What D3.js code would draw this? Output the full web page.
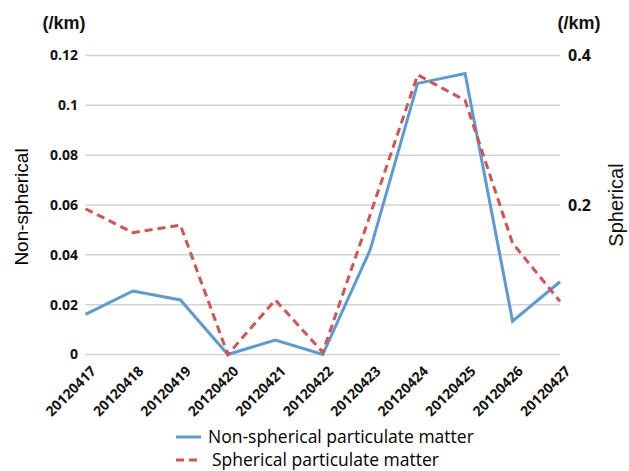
<!DOCTYPE html>
<html><head><meta charset="utf-8">
<script src="https://cdn.jsdelivr.net/npm/d3@7"></script>
<style>
html,body{margin:0;padding:0;background:#fff;}
svg{display:block;}
</style></head>
<body>
<svg id="chart" width="629" height="471"></svg>
<script>
const categories = ["20120417","20120418","20120419","20120420","20120421","20120422","20120423","20120424","20120425","20120426","20120427"];
const nonSpherical = [0.0161, 0.0255, 0.0219, 0.0, 0.0058, 0.0, 0.042, 0.1088, 0.1128, 0.0134, 0.0292];
const spherical = [0.195, 0.163, 0.173, 0.0, 0.073, 0.003, 0.187, 0.374, 0.340, 0.149, 0.071];
const leftTicks = [0, 0.02, 0.04, 0.06, 0.08, 0.1, 0.12];
const rightTicks = [0.2, 0.4];
const seriesNames = ["Non-spherical particulate matter", "Spherical particulate matter"];

const blue = "#5b9bd5", red = "#d6544f";
const svg = d3.select("#chart");
const x = d3.scalePoint().domain(categories).range([85.5, 560]).padding(0);
const yL = d3.scaleLinear().domain([0, 0.12]).range([354.5, 55.5]);
const yR = d3.scaleLinear().domain([0, 0.4]).range([354.5, 55.5]);

// gridlines
svg.append("g").selectAll("line").data(leftTicks).join("line")
  .attr("x1", 85.5).attr("x2", 560)
  .attr("y1", d => yL(d)).attr("y2", d => yL(d))
  .attr("stroke", "#d3d3d3").attr("stroke-width", 1.5);

// left axis labels
const tickFont = "'Open Sans', sans-serif";
svg.append("g").selectAll("text").data(leftTicks).join("text")
  .attr("x", 78).attr("y", d => yL(d)).attr("dy", "0.35em")
  .attr("text-anchor", "end").attr("font-family", tickFont)
  .attr("font-weight", "bold").attr("font-size", 14).attr("fill", "#111")
  .text(d => d === 0 ? "0" : d3.format("")(+d.toFixed(2)));

// right axis labels
svg.append("g").selectAll("text").data(rightTicks).join("text")
  .attr("x", 568).attr("y", d => yR(d)).attr("dy", "0.35em")
  .attr("text-anchor", "start").attr("font-family", tickFont)
  .attr("font-weight", "bold").attr("font-size", 16).attr("fill", "#111")
  .text(d => String(d));

// units
svg.append("text").attr("x", 64).attr("y", 29).attr("text-anchor", "middle")
  .attr("font-family", "'Liberation Sans', Arial, sans-serif").attr("font-weight", "bold")
  .attr("font-size", 18).attr("fill", "#111").text("(/km)");
svg.append("text").attr("x", 579).attr("y", 29).attr("text-anchor", "middle")
  .attr("font-family", "'Liberation Sans', Arial, sans-serif").attr("font-weight", "bold")
  .attr("font-size", 18).attr("fill", "#111").text("(/km)");

// axis titles
svg.append("text").attr("transform", "translate(21,207) rotate(-90)")
  .attr("text-anchor", "middle").attr("dy", "0.35em")
  .attr("font-family", "'Liberation Sans', Arial, sans-serif")
  .attr("font-size", 19).attr("fill", "#000").text("Non-spherical");
svg.append("text").attr("transform", "translate(616,205) rotate(-90)")
  .attr("text-anchor", "middle").attr("dy", "0.35em")
  .attr("font-family", "'Liberation Sans', Arial, sans-serif")
  .attr("font-size", 20).attr("fill", "#111").text("Spherical");

// x labels
svg.append("g").selectAll("text").data(categories).join("text")
  .attr("transform", d => `translate(${x(d) + 8},${yL(0) + 14}) rotate(-45)`)
  .attr("text-anchor", "end").attr("dy", "0.35em")
  .attr("font-family", tickFont).attr("font-weight", "bold")
  .attr("font-size", 14).attr("fill", "#111").text(d => d);

// lines
const lineL = d3.line().x((d, i) => x(categories[i])).y(d => yL(d));
const lineR = d3.line().x((d, i) => x(categories[i])).y(d => yR(d));
svg.append("path").attr("d", lineL(nonSpherical)).attr("fill", "none")
  .attr("stroke", blue).attr("stroke-width", 3).attr("stroke-linejoin", "miter");
svg.append("path").attr("d", lineR(spherical)).attr("fill", "none")
  .attr("stroke", red).attr("stroke-width", 3).attr("stroke-dasharray", "8,5");

// legend
const legend = svg.append("g");
const lrows = [{name: seriesNames[0], color: blue, dash: null, y: 437, tx: 208},
               {name: seriesNames[1], color: red, dash: "8,5", y: 460, tx: 212}];
lrows.forEach(r => {
  legend.append("line").attr("x1", 176).attr("x2", 201).attr("y1", r.y).attr("y2", r.y)
    .attr("stroke", r.color).attr("stroke-width", 3).attr("stroke-dasharray", r.dash);
  legend.append("text").attr("x", r.tx).attr("y", r.y).attr("dy", "0.35em")
    .attr("font-family", "'Open Sans', sans-serif").attr("font-size", 17.5)
    .attr("fill", "#000").text(r.name);
});
</script>
</body></html>
